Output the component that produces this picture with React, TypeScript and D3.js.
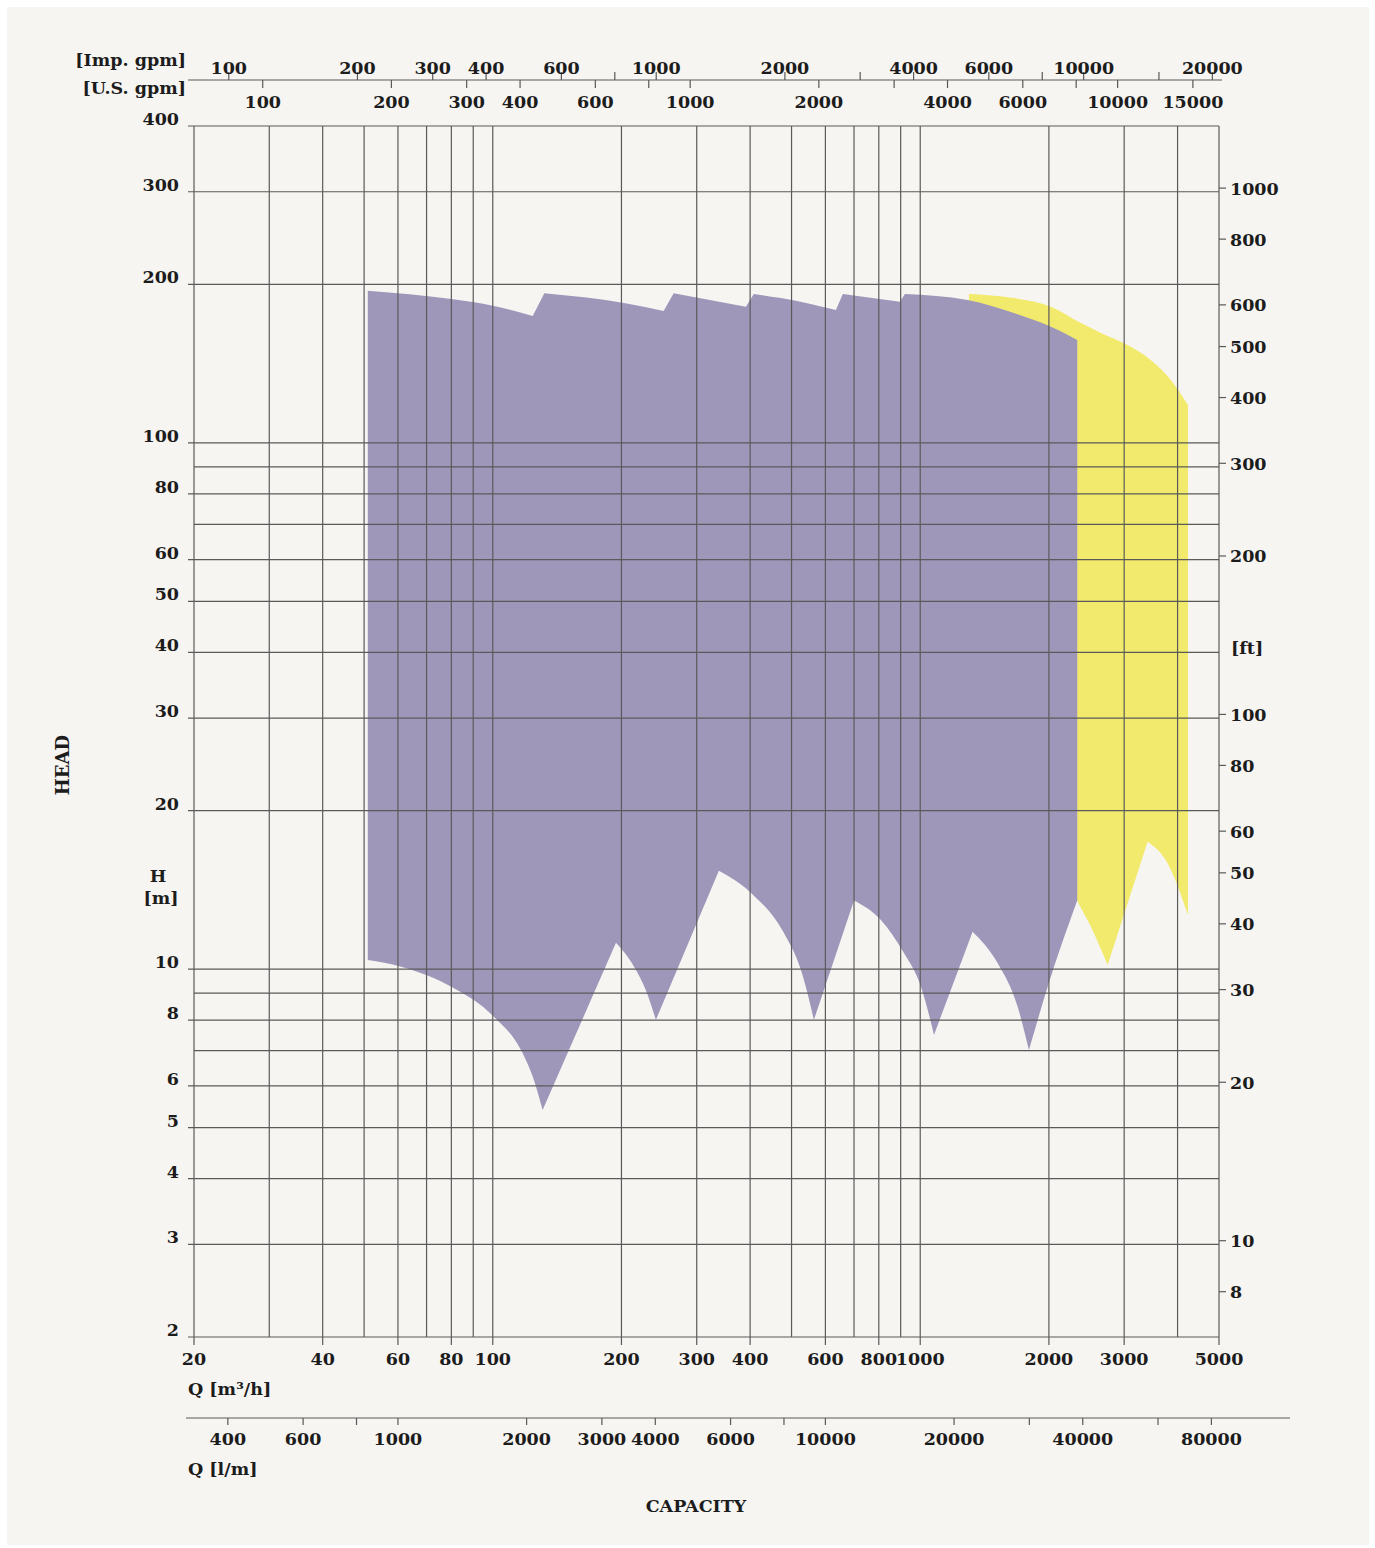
import * as d3 from 'd3';

// grid and tick values (Q in m3/h, H in m)
const qGrid = [20, 30, 40, 50, 60, 70, 80, 90, 100, 200, 300, 400, 500, 600, 700, 800, 900, 1000, 2000, 3000, 4000, 5000];
const qLabels = [20, 40, 60, 80, 100, 200, 300, 400, 600, 800, 1000, 2000, 3000, 5000];
const hGrid = [2, 3, 4, 5, 6, 7, 8, 9, 10, 20, 30, 40, 50, 60, 70, 80, 90, 100, 200, 300, 400];
const hLabels = [2, 3, 4, 5, 6, 8, 10, 20, 30, 40, 50, 60, 80, 100, 200, 300, 400];
const ftTicks = [8, 10, 20, 30, 40, 50, 60, 80, 100, 200, 300, 400, 500, 600, 800, 1000];
const impTicks = [100, 200, 300, 400, 600, 800, 1000, 2000, 3000, 4000, 6000, 8000, 10000, 15000, 20000];
const impLabels = [100, 200, 300, 400, 600, 1000, 2000, 4000, 6000, 10000, 20000];
const usTicks = [100, 200, 300, 400, 600, 800, 1000, 2000, 3000, 4000, 6000, 8000, 10000, 15000];
const usLabels = [100, 200, 300, 400, 600, 1000, 2000, 4000, 6000, 10000, 15000];
const lpmTicks = [400, 600, 800, 1000, 2000, 3000, 4000, 6000, 8000, 10000, 20000, 30000, 40000, 60000, 80000];
const lpmLabels = [400, 600, 1000, 2000, 3000, 4000, 6000, 10000, 20000, 40000, 80000];

// gpm scales as printed on the sheet (m3/h per gpm)
const impFactor = 0.2412;
const usFactor = 0.2896;
const ftPerM = 3.28084;
const m3hPerLpm = 0.06;

// performance ranges [Q m3/h, H m]
const purpleTop: [number, number][] = [
  [51, 194.6], [80, 187.6], [100.6, 182], [124, 174.2], [132, 192.4], [202.7, 184.4], [251, 178],
  [265, 192.4], [391, 181.4], [408, 191.8], [472, 188.4], [635, 178.8], [659, 191.8], [896, 185.4],
  [921, 191.8], [1291, 186.8], [1656, 176.5], [2022, 166.2], [2330, 156.9],
];
const purpleBottom: [number, number][] = [
  [51, 10.41], [61, 10.11], [80, 9.26], [100.6, 8.12], [116.4, 7.02], [124, 6.25], [130.8, 5.4],
  [194.2, 11.22], [214, 10.11], [228, 9.13], [240.8, 8.01], [338, 15.38], [402, 13.96], [480, 11.71],
  [526, 9.96], [564, 8.01], [700, 13.5], [809, 12.4], [916, 10.73], [1004, 9.26], [1077, 7.5],
  [1326, 11.78], [1517, 10.27], [1690, 8.48], [1796, 7.02], [2022, 9.68], [2330, 13.5],
];
const yellowTop: [number, number][] = [
  [1300, 191.8], [1656, 188.4], [2022, 181.4], [2377, 168.9], [2647, 161.7], [3056, 153.4],
  [3464, 143.6], [3858, 131.7], [4230, 118],
];
const yellowBottom: [number, number][] = [
  [1300, 100], [2330, 13.5], [2508, 12.04], [2744, 10.18], [3404, 17.46], [3790, 15.9], [4230, 12.67],
];

const FONT = '"DejaVu Serif", serif';
const INK = '#1c1c1c';
const GRID = '#5a5a5a';

type Pt = [number, number];

// cut a boundary into runs where H only rises or only falls, so corners stay sharp
function splitRuns(pts: Pt[]): Pt[][] {
  const runs: Pt[][] = [];
  let cur: Pt[] = [pts[0]];
  let dir = 0;
  for (let i = 1; i < pts.length; i++) {
    const d = Math.sign(pts[i][1] - pts[i - 1][1]);
    if (dir !== 0 && d !== dir) {
      runs.push(cur);
      cur = [pts[i - 1]];
    }
    cur.push(pts[i]);
    dir = d;
  }
  runs.push(cur);
  return runs;
}

export default function App() {
  const x = d3.scaleLog().domain([20, 5000]).range([194, 1219]);
  const y = d3.scaleLog().domain([2, 400]).range([1337, 126]);
  const left = x(20), right = x(5000), top = y(400), bottom = y(2);

  const smooth = d3.line<Pt>().x((d) => x(d[0])).y((d) => y(d[1])).curve(d3.curveMonotoneX);

  const ring = (t: Pt[], b: Pt[]) => {
    const topRuns = splitRuns(t);
    const botRuns = splitRuns(b).map((r) => r.slice().reverse()).reverse();
    return [...topRuns, ...botRuns]
      .map((r, i) => {
        const s = smooth(r) || '';
        return i === 0 ? s : 'L' + s.slice(1);
      })
      .join('') + 'Z';
  };

  const txt = { fontFamily: FONT, fontWeight: 'bold' as const, fontSize: 17.5, fill: INK };
  const fmt = (v: number) => String(v);

  return (
    <svg width={1375} height={1548} style={{ position: 'absolute', left: 0, top: 0 }}>
      <rect width={1375} height={1548} fill="#ffffff" />
      <rect x={7} y={7} width={1362} height={1538} fill="#f7f5f2" />

      {/* filled ranges */}
      <path d={ring(yellowTop, yellowBottom)} fill="#f2ea6c" />
      <path d={ring(purpleTop, purpleBottom)} fill="#9e97ba" />

      {/* grid */}
      {qGrid.map((q) => (
        <line key={'vq' + q} x1={x(q)} x2={x(q)} y1={top}
          y2={qLabels.includes(q) ? bottom + 8 : bottom} stroke={GRID} strokeWidth={1.2} />
      ))}
      {hGrid.map((h) => (
        <line key={'hh' + h} x1={hLabels.includes(h) ? left - 6 : left} x2={right}
          y1={y(h)} y2={y(h)} stroke={GRID} strokeWidth={1.2} />
      ))}

      {/* left H labels */}
      {hLabels.map((h) => (
        <text key={'hl' + h} x={179} y={y(h) - 1} textAnchor="end" {...txt}>{fmt(h)}</text>
      ))}
      <text x={158} y={882} textAnchor="middle" {...txt}>H</text>
      <text x={161} y={904} textAnchor="middle" {...txt}>[m]</text>
      <text transform="translate(69,765) rotate(-90)" textAnchor="middle" {...txt} fontSize={18}>HEAD</text>

      {/* right ft axis */}
      {ftTicks.map((f) => (
        <g key={'ft' + f}>
          <line x1={right} x2={right + 7} y1={y(f / ftPerM)} y2={y(f / ftPerM)} stroke={GRID} strokeWidth={1.2} />
          <text x={right + 11} y={y(f / ftPerM) + 6.5} {...txt}>{fmt(f)}</text>
        </g>
      ))}
      <text x={1231} y={654} {...txt}>[ft]</text>

      {/* bottom m3/h labels */}
      {qLabels.map((q) => (
        <text key={'ql' + q} x={x(q)} y={1365} textAnchor="middle" {...txt}>{fmt(q)}</text>
      ))}
      <text x={188} y={1395} {...txt}>Q [m³/h]</text>

      {/* l/m axis */}
      <line x1={186} x2={1290} y1={1418} y2={1418} stroke={GRID} strokeWidth={1.2} />
      {lpmTicks.map((l) => (
        <line key={'lt' + l} x1={x(l * m3hPerLpm)} x2={x(l * m3hPerLpm)} y1={1418} y2={1425} stroke={GRID} strokeWidth={1.2} />
      ))}
      {lpmLabels.map((l) => (
        <text key={'ll' + l} x={x(l * m3hPerLpm)} y={1445} textAnchor="middle" {...txt}>{fmt(l)}</text>
      ))}
      <text x={188} y={1475} {...txt}>Q [l/m]</text>
      <text x={696} y={1512} textAnchor="middle" {...txt}>CAPACITY</text>

      {/* gpm axes */}
      <line x1={188} x2={1222} y1={80} y2={80} stroke={GRID} strokeWidth={1.2} />
      {impTicks.map((g) => (
        <line key={'it' + g} x1={x(g * impFactor)} x2={x(g * impFactor)} y1={80} y2={72} stroke={GRID} strokeWidth={1.2} />
      ))}
      {impLabels.map((g) => (
        <text key={'il' + g} x={x(g * impFactor)} y={74} textAnchor="middle" {...txt}>{fmt(g)}</text>
      ))}
      {usTicks.map((g) => (
        <line key={'ut' + g} x1={x(g * usFactor)} x2={x(g * usFactor)} y1={80} y2={88} stroke={GRID} strokeWidth={1.2} />
      ))}
      {usLabels.map((g) => (
        <text key={'ul' + g} x={x(g * usFactor)} y={108} textAnchor="middle" {...txt}>{fmt(g)}</text>
      ))}
      <text x={186} y={66} textAnchor="end" {...txt}>[Imp. gpm]</text>
      <text x={186} y={94} textAnchor="end" {...txt}>[U.S. gpm]</text>
    </svg>
  );
}
